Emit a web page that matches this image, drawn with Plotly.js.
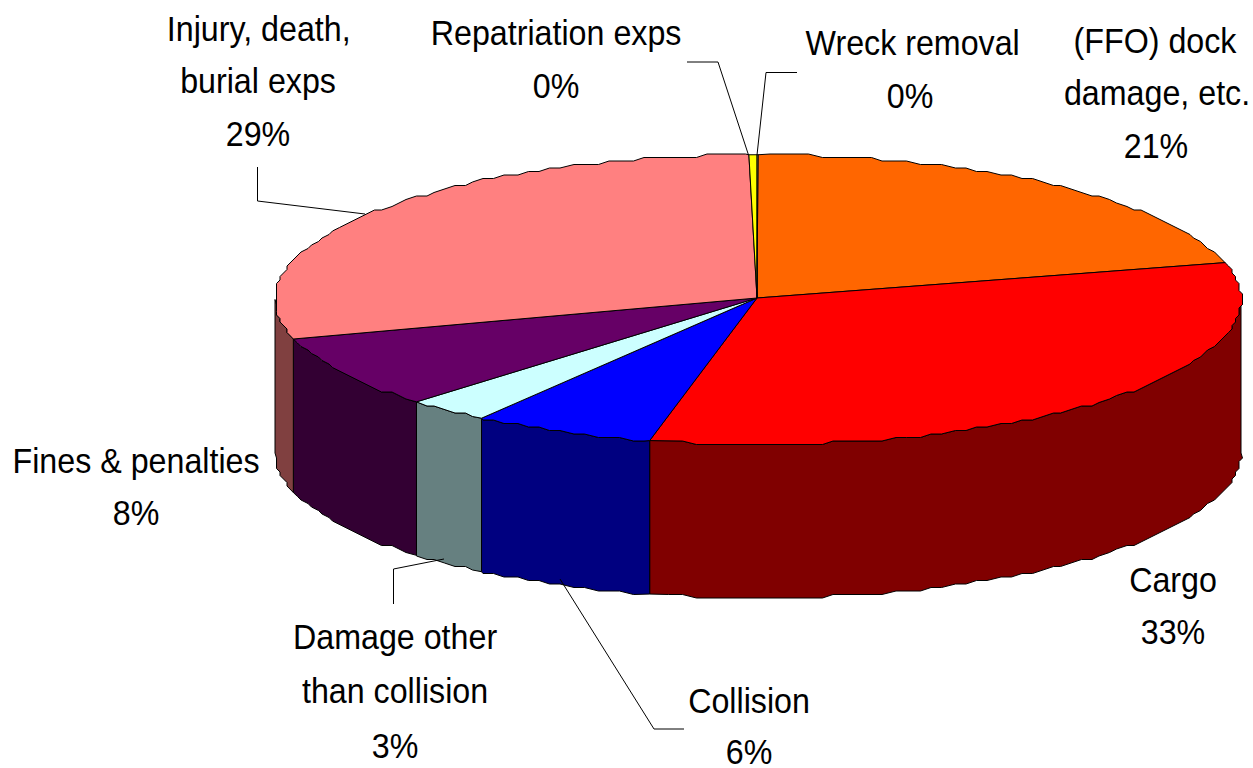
<!DOCTYPE html>
<html>
<head>
<meta charset="utf-8">
<script src="https://cdn.plot.ly/plotly-3.0.1.min.js"></script>
<style>html,body{margin:0;padding:0;background:#fff;overflow:hidden}</style>
</head>
<body>
<div id="chart" style="width:1253px;height:768px"></div>
<script>
// Slices, clockwise from 12 o'clock
const categories = ["(FFO) dock damage, etc.", "Cargo", "Collision", "Damage other than collision", "Fines & penalties", "Injury, death, burial exps", "Repatriation exps", "Wreck removal"];
const values = [20.9, 32.7, 6.1, 2.8, 8.1, 29.1, 0.27, 0.03];
const topColors = ["#FF6600", "#FF0000", "#0000FF", "#CCFFFF", "#660066", "#FF8080", "#FFFF00", "#FFFF99"];
const sideColors = ["#803300", "#800000", "#000080", "#668080", "#330033", "#804040", "#808000", "#808040"];
const percentLabels = ["21%", "33%", "6%", "3%", "8%", "29%", "0%", "0%"];

// Geometry of the tilted disc, in page pixels
const cx = 758, cy = 299.5, rx = 483, ry = 144.75, depth = 153.5, grid = 3.5, stepDeg = 1.5;
const apex = [757, 298];

function snap(v) { return Math.round(v / grid) * grid; }
function rim(deg, drop) {
  const r = deg * Math.PI / 180;
  return [snap(cx + rx * Math.sin(r)), snap(cy - ry * Math.cos(r)) + drop];
}
function arc(a, b, drop) {
  const pts = [[cx + rx * Math.sin(a * Math.PI / 180), cy - ry * Math.cos(a * Math.PI / 180) + drop]];
  for (let d = Math.ceil(a / stepDeg) * stepDeg; d < b; d += stepDeg) { if (d > a) pts.push(rim(d, drop)); }
  pts.push([cx + rx * Math.sin(b * Math.PI / 180), cy - ry * Math.cos(b * Math.PI / 180) + drop]);
  return pts;
}
const total = values.reduce((s, v) => s + v, 0);
let run = 0;
const bounds = values.map(v => { const a = run; run += v; return [a / total * 360, run / total * 360]; });

const lineStyle = {color: "#000", width: 1};
const traces = [];
function poly(pts, fill, name) {
  traces.push({
    type: "scatter", mode: "lines", name: name,
    x: pts.map(p => p[0]), y: pts.map(p => p[1]),
    fill: "toself", fillcolor: fill, line: lineStyle, hoverinfo: "name"
  });
}
// visible wall: only the front half of the rim
bounds.forEach((b, i) => {
  const a = Math.max(b[0], 90), e = Math.min(b[1], 270);
  if (e <= a) return;
  const pts = arc(a, e, 0).concat(arc(a, e, depth).reverse());
  pts.push(pts[0]);
  poly(pts, sideColors[i], categories[i] + " (side)");
});
// top face
bounds.forEach((b, i) => {
  const pts = [apex].concat(arc(b[0], b[1], 0));
  pts.push(apex);
  poly(pts, topColors[i], categories[i]);
});

// Label lines: text rows per slice
const labelRows = [
  [["(FFO) dock", 1155, 40], ["damage, etc.", 1157, 92], [percentLabels[0], 1156, 145]],
  [[ "Cargo", 1173, 579], [percentLabels[1], 1173, 631]],
  [[ "Collision", 749, 700], [percentLabels[2], 749, 751]],
  [[ "Damage other", 395, 636], ["than collision", 395, 690], [percentLabels[3], 395, 745]],
  [[ "Fines & penalties", 136, 460], [percentLabels[4], 136, 512]],
  [[ "Injury, death,", 258, 28], ["burial exps", 258, 80], [percentLabels[5], 258, 133]],
  [[ "Repatriation exps", 556, 32], [percentLabels[6], 556, 85]],
  [[ "Wreck removal", 912, 42], [percentLabels[7], 910, 95]]
];
const annotations = [];
labelRows.forEach(rows => rows.forEach(r => annotations.push({
  x: r[1], y: r[2], xref: "x", yref: "y", text: r[0], showarrow: false,
  xanchor: "center", yanchor: "middle",
  font: {family: "Liberation Sans, Arial, sans-serif", size: 36, color: "#000"}
})));

const leaders = [
  "M257.5 167 L257.5 201 L365 214",
  "M687 62 L718 62 L748.5 155",
  "M797 72.5 L766 72.5 L757 155",
  "M393.5 604 L393.5 569 L444 559",
  "M560 579 L654 729 L684 729"
];
const shapes = leaders.map(p => ({type: "path", path: p, xref: "x", yref: "y", line: {color: "#000", width: 1}}));

const layout = {
  width: 1253, height: 768, margin: {l: 0, r: 0, t: 0, b: 0},
  paper_bgcolor: "#fff", plot_bgcolor: "#fff", showlegend: false,
  xaxis: {range: [0, 1253], visible: false, fixedrange: true},
  yaxis: {range: [768, 0], visible: false, fixedrange: true},
  annotations: annotations, shapes: shapes
};
const squeeze = 0.895;
Plotly.newPlot("chart", traces, layout, {displayModeBar: false, staticPlot: true}).then(gd => {
  gd.querySelectorAll(".annotation text").forEach(t => {
    const b = t.getBBox();
    const mid = b.x + b.width / 2;
    t.setAttribute("transform", `translate(${mid} 0) scale(${squeeze} 1) translate(${-mid} 0)`);
  });
});
</script>
</body>
</html>
